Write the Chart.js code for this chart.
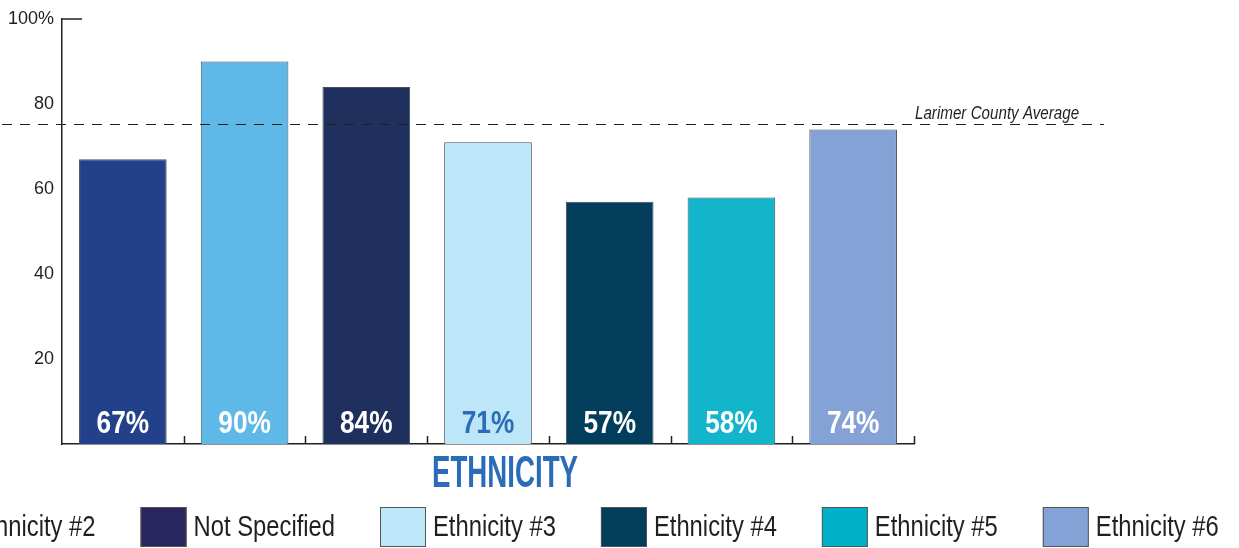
<!DOCTYPE html>
<html>
<head>
<meta charset="utf-8">
<title>Ethnicity</title>
<script src="https://cdn.jsdelivr.net/npm/chart.js@4.4.1/dist/chart.umd.min.js"></script>
<style>
  html, body { margin: 0; padding: 0; background: #fff; overflow: hidden; }
  #wrap { width: 1239px; height: 548px; }
</style>
</head>
<body>
<div id="wrap"><canvas id="ethChart" width="1239" height="548"></canvas></div>
<script>
// data
const categories = ['Ethnicity #1', 'Ethnicity #2', 'Not Specified', 'Ethnicity #3', 'Ethnicity #4', 'Ethnicity #5', 'Ethnicity #6'];
const percentages = [67, 90, 84, 71, 57, 58, 74];
const countyAverage = 75.3;
const yTickValues = [0, 20, 40, 60, 80, 100];
const averageLabel = 'Larimer County Average';
const axisTitle = 'ETHNICITY';

// styles
const barColors = ['#22418a', '#5fb9e8', '#1f2f5e', '#bde6f8', '#033d5c', '#12b5c9', '#84a2d5'];
const legendColors = ['#22418a', '#5fb9e8', '#29265f', '#bde6f8', '#033d5c', '#00b0c8', '#84a2d5'];
const valueColors = ['#fff', '#fff', '#fff', '#2a6cb8', '#fff', '#fff', '#fff'];
const SANS = '"Liberation Sans", Arial, sans-serif';
const INK = '#231f20';
const NARROW_X = 0.82; // Arial Narrow look: squeeze Liberation Sans horizontally

// text squeezed horizontally around its anchor
function narrowText(ctx, text, x, y, align, sx) {
  ctx.save();
  ctx.translate(x, y);
  ctx.scale(sx || NARROW_X, 1);
  ctx.textAlign = align;
  ctx.fillText(text, 0, 0);
  ctx.restore();
}

const decor = {
  id: 'decor',
  afterDatasetsDraw(chart) {
    const { ctx, chartArea: a, scales: { x, y } } = chart;
    const n = categories.length;
    const step = (a.right - a.left) / n;
    ctx.save();

    // small tick at the top of y axis
    ctx.strokeStyle = INK;
    ctx.lineWidth = 1.5;
    const yTop = y.getPixelForValue(100);
    ctx.beginPath();
    ctx.moveTo(a.left, yTop);
    ctx.lineTo(a.left + 20, yTop);
    ctx.stroke();

    // inward ticks at category boundaries
    for (let i = 0; i < n; i++) {
      const px = Math.round(x.getPixelForValue(i) + step / 2) + 0.5;
      ctx.beginPath();
      ctx.moveTo(px, a.bottom);
      ctx.lineTo(px, a.bottom - 8);
      ctx.stroke();
    }

    // county average
    const yAvg = Math.round(y.getPixelForValue(countyAverage)) + 0.5;
    ctx.lineWidth = 1.2;
    ctx.setLineDash([10, 8]);
    ctx.beginPath();
    ctx.moveTo(2, yAvg);
    ctx.lineTo(a.right + 190, yAvg);
    ctx.stroke();
    ctx.setLineDash([]);
    ctx.fillStyle = INK;
    ctx.textBaseline = 'alphabetic';
    ctx.font = 'italic 18.5px ' + SANS;
    narrowText(ctx, averageLabel, a.right + 1, yAvg - 6, 'left');

    // values inside bars
    ctx.font = 'bold 32px ' + SANS;
    chart.getDatasetMeta(0).data.forEach((bar, i) => {
      ctx.fillStyle = valueColors[i];
      narrowText(ctx, percentages[i] + '%', bar.x, a.bottom - 11, 'center');
    });

    // axis title (condensed display face)
    ctx.font = 'bold 44px ' + SANS;
    ctx.fillStyle = '#2a6cb8';
    const tw = ctx.measureText(axisTitle).width;
    narrowText(ctx, axisTitle, 505, 487, 'center', 146 / tw);

    // legend row (wider than the canvas, left end cut off)
    ctx.font = '29px ' + SANS;
    ctx.textBaseline = 'middle';
    const boxW = 46, boxH = 40, gap = 7, after = 45;
    const widths = categories.map(c => boxW + gap + ctx.measureText(c).width * NARROW_X + after);
    const anchor = 3;
    let lx = 380 - widths.slice(0, anchor).reduce((s, w) => s + w, 0);
    const ly = 527;
    categories.forEach((c, i) => {
      ctx.fillStyle = legendColors[i];
      ctx.fillRect(lx, ly - boxH / 2, boxW, boxH);
      ctx.strokeStyle = '#555';
      ctx.lineWidth = 1;
      ctx.strokeRect(lx + 0.5, ly - boxH / 2 + 0.5, boxW - 1, boxH - 1);
      ctx.fillStyle = INK;
      narrowText(ctx, c, lx + boxW + gap, ly + 1, 'left');
      lx += widths[i];
    });
    ctx.restore();
  }
};

new Chart(document.getElementById('ethChart'), {
  type: 'bar',
  data: {
    labels: categories,
    datasets: [{
      data: percentages,
      backgroundColor: barColors,
      borderColor: '#46505c',
      borderWidth: 1,
      barPercentage: 0.72,
      categoryPercentage: 1
    }]
  },
  options: {
    responsive: false,
    animation: false,
    layout: { padding: { left: 0, right: 325, top: 19, bottom: 96 } },
    plugins: {
      legend: { display: false },
      tooltip: { enabled: false }
    },
    scales: {
      x: {
        grid: { display: false },
        ticks: { display: false },
        border: { display: true, color: INK, width: 1.5 }
      },
      y: {
        min: 0,
        max: 100,
        afterFit(scale) { scale.width = 62; },
        afterBuildTicks(scale) { scale.ticks = yTickValues.map(v => ({ value: v })); },
        grid: { display: false },
        border: { display: true, color: INK, width: 1.5 },
        ticks: {
          padding: 0,
          color: INK,
          font: { family: SANS, size: 18 },
          callback: v => (v === 100 ? '100%' : v === 0 ? '' : v)
        }
      }
    }
  },
  plugins: [decor]
});
</script>
</body>
</html>
